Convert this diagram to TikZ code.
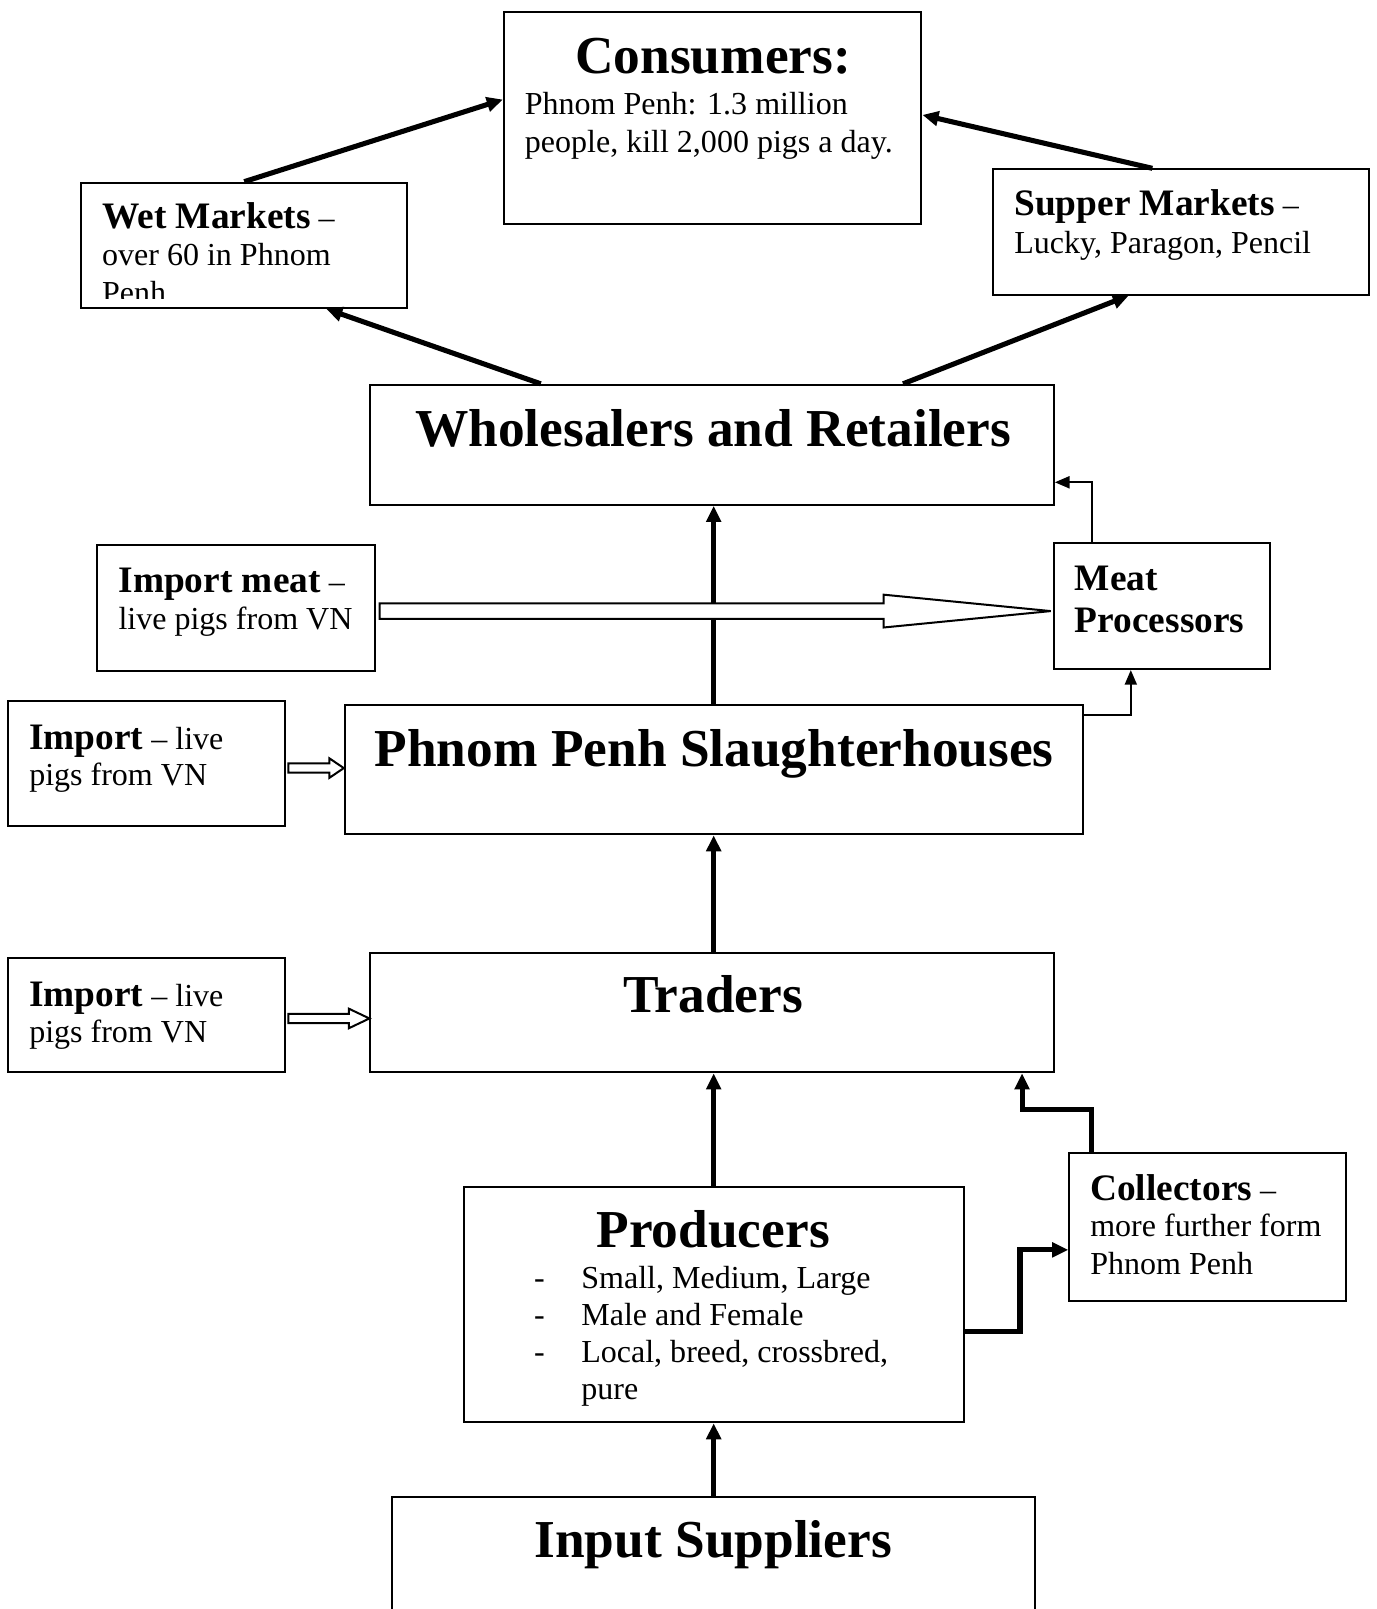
\documentclass[tikz,border=0pt]{standalone}
\usepackage{fontspec}
\setmainfont{Liberation Serif}
\usetikzlibrary{arrows.meta,fit,calc}
\tikzset{
  box/.style={draw,line width=0.75pt,inner sep=0pt,rectangle},
  body/.style={inner sep=0pt,anchor=base west,font=\fontsize{12}{14}\selectfont},
  ttl/.style={inner sep=0pt,anchor=base,font=\fontsize{20}{24}\selectfont\bfseries},
  thk/.style={line width=1.9pt,-{Triangle[length=6pt,width=5.4pt]}},
  thn/.style={line width=0.75pt,-{Triangle[length=5.5pt,width=4.5pt]}},
  hollow/.style={draw,fill=white,line width=0.75pt,line join=miter},
}
\newcommand{\mylbl}[1]{{\fontsize{14}{16}\selectfont\bfseries #1}}
% #1 start coord, #2 end coord, #3 shaft half height, #4 head half height, #5 head length
\newcommand{\hollowarr}[5]{%
  \draw[hollow] ($(#1)+(0,-#3)$) -- ($(#2)+(-#5,-#3)$) -- ($(#2)+(-#5,-#4)$) -- (#2)
    -- ($(#2)+(-#5,#4)$) -- ($(#2)+(-#5,#3)$) -- ($(#1)+(0,#3)$) -- cycle;}
\begin{document}
\begin{tikzpicture}[x=0.3846pt,y=-0.3846pt]
\clip (0,0) rectangle (1341,1568);
% ---------- boxes ----------
\node[box,fit={(491,12)(898,218)}] (cons) {};
\node[box,fit={(79,178)(397,300)}] (wet) {};
\node[box,fit={(968,165)(1334,287)}] (super) {};
\node[box,fit={(361,375)(1027,492)}] (whole) {};
\node[box,fit={(95,531)(365,654)}] (impmeat) {};
\node[box,fit={(1027,529)(1238,652)}] (mproc) {};
\node[box,fit={(8,683)(278,805)}] (imp1) {};
\node[box,fit={(336,687)(1055,813)}] (slaughter) {};
\node[box,fit={(8,934)(278,1045)}] (imp2) {};
\node[box,fit={(361,929)(1027,1045)}] (traders) {};
\node[box,fit={(452,1157)(939,1386)}] (prod) {};
\node[box,fit={(1042,1124)(1312,1268)}] (coll) {};
\node[box,fit={(382,1459)(1009,1640)}] (input) {};
% ---------- texts ----------
\node[ttl] (tcons) at (695,72) {Consumers:};
\node[body] (tcons1) at (511,112) {Phnom Penh: 1.3 million};
\node[body] (tcons2) at (511,149) {people, kill 2,000 pigs a day.};
\node[body] (twet1) at (99,223) {\mylbl{Wet Markets} –};
\node[body] (twet2) at (99,259) {over 60 in Phnom};
\begin{scope}
  \clip (80,179) rectangle (396,291);
  \node[body] (twet3) at (99,296) {Penh};
\end{scope}
\node[body] (tsup1) at (988,210) {\mylbl{Supper Markets} –};
\node[body] (tsup2) at (988,247) {Lucky, Paragon, Pencil};
\node[ttl] (twhole) at (695,435) {Wholesalers and Retailers};
\node[body] (timpm1) at (115,577) {\mylbl{Import meat} –};
\node[body] (timpm2) at (115,613) {live pigs from VN};
\node[body] (tmp1) at (1047,575) {\mylbl{Meat}};
\node[body] (tmp2) at (1047,616) {\mylbl{Processors}};
\node[body] (timp11) at (28,730) {\mylbl{Import} – live};
\node[body] (timp12) at (28,765) {pigs from VN};
\node[ttl] (tsl) at (696,747) {Phnom Penh Slaughterhouses};
\node[body] (timp21) at (28,981) {\mylbl{Import} – live};
\node[body] (timp22) at (28,1016) {pigs from VN};
\node[ttl] (ttr) at (695,987) {Traders};
\node[ttl] (tprod) at (695,1216) {Producers};
\node[body] (d1) at (520,1256) {-};
\node[body] (d2) at (520,1292) {-};
\node[body] (d3) at (520,1328) {-};
\node[body] (p1) at (566,1256) {Small, Medium, Large};
\node[body] (p2) at (566,1292) {Male and Female};
\node[body] (p3) at (566,1328) {Local, breed, crossbred,};
\node[body] (p4) at (566,1364) {pure};
\node[body] (tcol1) at (1062,1170) {\mylbl{Collectors} –};
\node[body] (tcol2) at (1062,1205) {more further form};
\node[body] (tcol3) at (1062,1242) {Phnom Penh};
\node[ttl] (tin) at (695,1518) {Input Suppliers};
% ---------- connectors ----------
\draw[thk] (wet.north) -- ($(cons.west)+(0,-18)$);
\draw[thk] ($(super.north)+(-28,0)$) -- ($(cons.east)+(0,-3)$);
\draw[thk] ($(whole.north)+(-167,0)$) -- ($(wet.south)+(80,0)$);
\draw[thk] ($(whole.north)+(186,0)$) -- ($(super.south)+(-51,0)$);
\draw[thk] (slaughter.north) -- (slaughter.north |- whole.south);
\draw[thk] (traders.north -| slaughter.south) -- (slaughter.south);
\draw[thk] (prod.north) -- (prod.north |- traders.south);
\draw[thk] (input.north) -- (input.north |- prod.south);
\draw[thk] ($(coll.north)+(-113,0)$) -- ++(0,-42) -| ($(traders.south)+(302,0)$);
\draw[thk] ($(prod.east)+(0,26.5)$) -- ++(54,0) |- ($(coll.west)+(0,22)$);
\draw[thn] ($(mproc.north)+(-68.5,0)$) |- ($(whole.east)+(0,36.5)$);
\draw[thn] ($(slaughter.east)+(0,-53)$) -| ($(mproc.south)+(-30.5,0)$);
% hollow block arrows
\coordinate (sm) at ($(impmeat.east)+(4,3)$);
\coordinate (em) at ($(sm -| mproc.west)+(-2,0)$);
\hollowarr{sm}{em}{7.5}{16}{163}
\coordinate (s1) at ($(imp1.east)+(2,4.5)$);
\coordinate (e1) at (s1 -| slaughter.west);
\hollowarr{s1}{e1}{4.5}{9.5}{14}
\coordinate (s2) at ($(imp2.east)+(2,3)$);
\coordinate (e2) at (s2 -| traders.west);
\hollowarr{s2}{e2}{4.5}{9.5}{20}
\end{tikzpicture}
\end{document}
